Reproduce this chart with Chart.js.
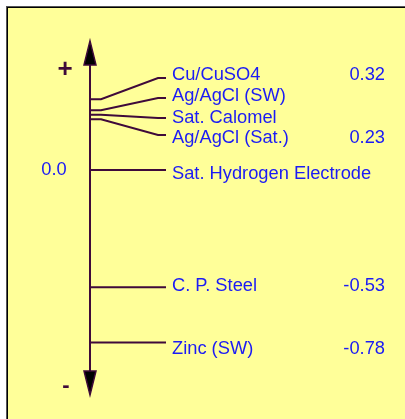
<!DOCTYPE html>
<html>
<head>
<meta charset="utf-8">
<script src="https://cdn.jsdelivr.net/npm/chart.js@4.4.1/dist/chart.umd.min.js"></script>
<style>
html,body{margin:0;padding:0;background:#fff;}
canvas{display:block;}
</style>
</head>
<body>
<canvas id="c" width="405" height="419"></canvas>
<script>
// ---- data ----
const electrodes = ["Cu/CuSO4", "Ag/AgCl (SW)", "Sat. Calomel", "Ag/AgCl (Sat.)", "Sat. Hydrogen Electrode", "C. P. Steel", "Zinc (SW)"];
const potentials = [0.32, 0.27, 0.25, 0.23, 0.0, -0.53, -0.78];
const valueLabels = ["0.32", "", "", "0.23", "", "-0.53", "-0.78"];
const labelPotentials = [0.416, 0.326, 0.235, 0.158, 0.0, -0.53, -0.78];
const textPotentials = [0.428, 0.336, 0.235, 0.147, -0.018, -0.523, -0.808];
const zeroLabel = "0.0";
const axisEnds = [0.584, -1.018];

const PURPLE = "#3f0a3a";
const BLUE = "#1b1bf5";

const datasets = electrodes.map((name, i) => {
  const v = potentials[i], lv = labelPotentials[i];
  const pts = (v === lv)
    ? [{x:0,y:v},{x:76,y:v}]
    : [{x:0,y:v},{x:11,y:v},{x:68,y:lv},{x:76,y:lv}];
  return {label:name, data:pts, showLine:true, borderColor:PURPLE, borderWidth:2,
          pointRadius:0, fill:false, tension:0, clip:false};
});

const framePlugin = {
  id:'frame',
  beforeDraw(chart){
    const ctx = chart.ctx;
    ctx.save();
    ctx.fillStyle = '#ffffff';
    ctx.fillRect(0,0,chart.width,chart.height);
    ctx.fillStyle = '#ffff99';
    ctx.fillRect(7,7,chart.width,chart.height);
    ctx.fillStyle = '#555';
    ctx.fillRect(6,6,chart.width,1);
    ctx.fillRect(6,6,1,chart.height);
    ctx.fillStyle = '#000';
    ctx.fillRect(7,7,chart.width,1);
    ctx.fillRect(7,7,1,chart.height);
    ctx.restore();
  }
};

const annotPlugin = {
  id:'annot',
  afterDatasetsDraw(chart){
    const ctx = chart.ctx, xs = chart.scales.x, ys = chart.scales.y;
    const ax = xs.getPixelForValue(0);
    const yTop = ys.getPixelForValue(axisEnds[0]);
    const yBot = ys.getPixelForValue(axisEnds[1]);
    ctx.save();
    // axis line
    ctx.strokeStyle = PURPLE; ctx.lineWidth = 2;
    ctx.beginPath(); ctx.moveTo(ax, yTop+10); ctx.lineTo(ax, yBot-10); ctx.stroke();
    // arrowheads
    ctx.fillStyle = '#000'; ctx.lineWidth = 1.5; ctx.lineJoin='miter';
    ctx.beginPath(); ctx.moveTo(ax, yTop); ctx.lineTo(ax+6, yTop+24); ctx.lineTo(ax-6, yTop+24); ctx.closePath();
    ctx.fill(); ctx.stroke();
    ctx.beginPath(); ctx.moveTo(ax, yBot); ctx.lineTo(ax+6, yBot-24); ctx.lineTo(ax-6, yBot-24); ctx.closePath();
    ctx.fill(); ctx.stroke();
    // + and -
    ctx.fillStyle = PURPLE;
    ctx.font = 'bold 26px "Liberation Sans", Arial, sans-serif';
    ctx.textAlign = 'center'; ctx.textBaseline = 'middle';
    ctx.fillText('+', xs.getPixelForValue(-25), ys.getPixelForValue(0.455));
    ctx.font = 'bold 22px "Liberation Sans", Arial, sans-serif';
    ctx.fillText('-', xs.getPixelForValue(-24), ys.getPixelForValue(-0.975));
    // texts
    ctx.fillStyle = BLUE;
    ctx.font = '18.3px "Liberation Sans", Arial, sans-serif';
    ctx.textAlign = 'center';
    ctx.fillText(zeroLabel, xs.getPixelForValue(-36), ys.getPixelForValue(0.0));
    ctx.textAlign = 'left';
    electrodes.forEach((n,i)=>{
      ctx.fillText(n, xs.getPixelForValue(82), ys.getPixelForValue(textPotentials[i]));
    });
    ctx.textAlign = 'right';
    valueLabels.forEach((t,i)=>{
      if(t) ctx.fillText(t, xs.getPixelForValue(295), ys.getPixelForValue(textPotentials[i]));
    });
    ctx.restore();
  }
};

new Chart(document.getElementById('c'), {
  type:'scatter',
  data:{datasets},
  options:{
    responsive:false, animation:false, devicePixelRatio:1,
    layout:{padding:0},
    plugins:{legend:{display:false}, tooltip:{enabled:false}},
    scales:{
      x:{type:'linear', min:-90, max:315, display:false},
      y:{type:'linear', min:-249/221, max:170/221, display:false}
    }
  },
  plugins:[framePlugin, annotPlugin]
});
</script>
</body>
</html>
